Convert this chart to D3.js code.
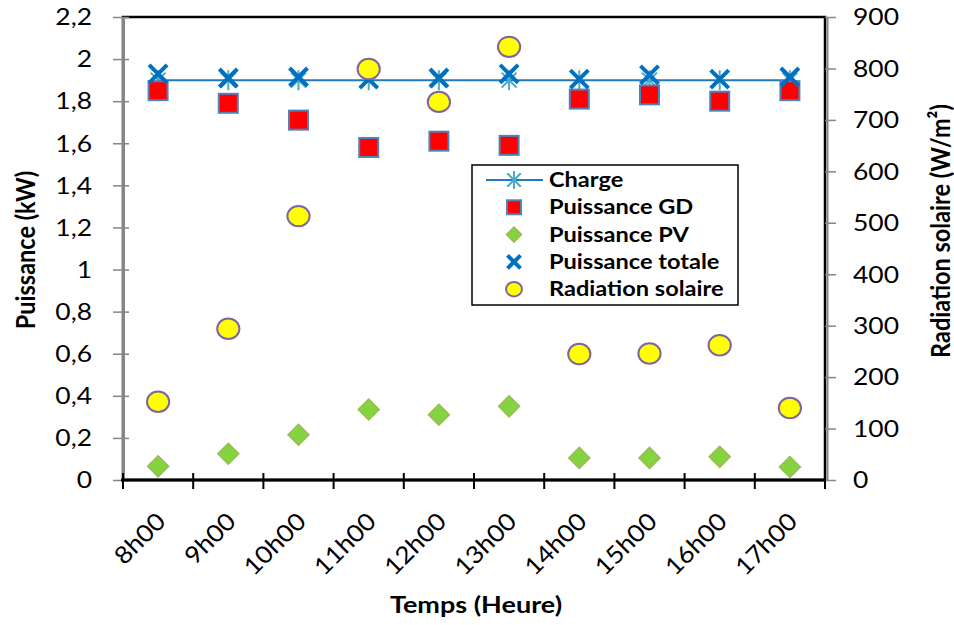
<!DOCTYPE html>
<html>
<head>
<meta charset="utf-8">
<script src="https://cdn.jsdelivr.net/npm/d3@7"></script>
<style>
  html, body { margin: 0; padding: 0; background: #fff; }
  svg { display: block; font-family: Lato, "Open Sans", sans-serif; }
</style>
</head>
<body>
<svg id="chart" width="954" height="625"></svg>
<script>
// Hourly categories
const categories = ["8h00", "9h00", "10h00", "11h00", "12h00", "13h00", "14h00", "15h00", "16h00", "17h00"];

// Power series (kW), left axis
const charge = [1.9, 1.9, 1.9, 1.9, 1.9, 1.9, 1.9, 1.9, 1.9, 1.9];
const puissanceGD = [1.85, 1.79, 1.71, 1.58, 1.61, 1.59, 1.81, 1.83, 1.80, 1.85];
const puissancePV = [0.065, 0.125, 0.215, 0.335, 0.31, 0.35, 0.105, 0.105, 0.11, 0.062];
const puissanceTotale = [1.93, 1.91, 1.915, 1.905, 1.91, 1.93, 1.905, 1.925, 1.905, 1.915];

// Solar radiation (W/m²), right axis
const radiation = [152, 294, 513, 799, 735, 842, 245, 246, 262, 140];

// Tick labels
const leftTicks = [0, 0.2, 0.4, 0.6, 0.8, 1, 1.2, 1.4, 1.6, 1.8, 2, 2.2];
const leftTickLabels = ["0", "0,2", "0,4", "0,6", "0,8", "1", "1,2", "1,4", "1,6", "1,8", "2", "2,2"];
const rightTicks = [0, 100, 200, 300, 400, 500, 600, 700, 800, 900];
const rightTickLabels = ["0", "100", "200", "300", "400", "500", "600", "700", "800", "900"];

const svg = d3.select("#chart");
const L = 123, R = 825, T = 17, B = 480;
const WIDE = 1.15; // horizontal widening applied to the text glyphs

const x = d3.scaleBand().domain(categories).range([L, R]).padding(0);
const y = d3.scaleLinear().domain([0, 2.2]).range([B, T]);
const y2 = d3.scaleLinear().domain([0, 900]).range([B, T]);
const cx = d => x(d) + x.bandwidth() / 2;

const COL = {
  charge: "#1f7ac4", chargeMark: "#4bacc6",
  gdFill: "#ff0000", gdStroke: "#4f81bd",
  pvFill: "#84d33f", pvStroke: "#9bbb59",
  tot: "#0070c0",
  radFill: "#ffff00", radStroke: "#8064a2"
};

// Plot frame (top and right borders)
svg.append("rect").attr("x", L).attr("y", T).attr("width", R - L).attr("height", B - T)
  .attr("fill", "#fff").attr("stroke", "#000").attr("stroke-width", 2.5);

// Left axis
const gL = svg.append("g").attr("transform", `translate(${L},0)`)
  .call(d3.axisLeft(y).tickValues(leftTicks).tickFormat("").tickSizeOuter(0));
gL.select(".domain").attr("stroke", "#868686").attr("stroke-width", 3);
gL.selectAll(".tick line").attr("x1", -10).attr("x2", 6).attr("stroke", "#868686").attr("stroke-width", 1.5);
svg.append("g").selectAll("text").data(leftTicks).join("text")
  .attr("transform", d => `translate(92,${y(d)}) scale(${WIDE},1)`)
  .attr("dy", "0.36em").attr("text-anchor", "end").attr("font-size", 23).attr("fill", "#000")
  .text((d, i) => leftTickLabels[i]);

// Right axis
const gR = svg.append("g").attr("transform", `translate(${R + 2},0)`)
  .call(d3.axisRight(y2).tickValues(rightTicks).tickFormat("").tickSizeOuter(0));
gR.select(".domain").attr("stroke", "#868686").attr("stroke-width", 2);
gR.selectAll(".tick line").attr("x1", -2).attr("x2", 9).attr("stroke", "#868686").attr("stroke-width", 1.5);
svg.append("g").selectAll("text").data(rightTicks).join("text")
  .attr("transform", d => `translate(853,${y2(d)}) scale(${WIDE},1)`)
  .attr("dy", "0.36em").attr("text-anchor", "start").attr("font-size", 23).attr("fill", "#000")
  .text((d, i) => rightTickLabels[i]);

// Bottom axis with ticks at category boundaries
const bounds = categories.map(c => x(c)).concat([x.range()[1]]);
svg.append("line").attr("x1", L - 2).attr("x2", R + 1).attr("y1", B).attr("y2", B)
  .attr("stroke", "#000").attr("stroke-width", 3);
svg.append("g").selectAll("line").data(bounds).join("line")
  .attr("x1", d => d).attr("x2", d => d).attr("y1", B - 7).attr("y2", B + 9)
  .attr("stroke", "#000").attr("stroke-width", 2);

svg.append("g").selectAll("text").data(categories).join("text")
  .attr("transform", d => `translate(${cx(d) + 9},${B + 43}) rotate(-45) scale(1.1,1)`)
  .attr("text-anchor", "end").attr("font-size", 24).attr("fill", "#000")
  .text(d => d);

// Axis titles
svg.append("text").attr("transform", `translate(35,250) rotate(-90) scale(1,${WIDE})`)
  .attr("text-anchor", "middle").attr("font-size", 23.5).attr("font-weight", "bold").text("Puissance (kW)");
svg.append("text").attr("transform", `translate(950,231) rotate(-90) scale(1,${WIDE})`)
  .attr("text-anchor", "middle").attr("font-size", 23.5).attr("font-weight", "bold").text("Radiation solaire (W/m²)");
svg.append("text").attr("transform", `translate(476,613) scale(${WIDE},1)`)
  .attr("text-anchor", "middle").attr("font-size", 23.5).attr("font-weight", "bold").text("Temps (Heure)");

// Marker helpers
function asterisk(g, px, py, s) {
  const a = s, d = s * 0.75;
  g.append("path").attr("d", `M${px},${py - a}V${py + a}M${px - d},${py - d}L${px + d},${py + d}M${px - d},${py + d}L${px + d},${py - d}`)
    .attr("stroke", COL.chargeMark).attr("stroke-width", 2).attr("fill", "none");
}
function square(g, px, py, s) {
  g.append("rect").attr("x", px - s).attr("y", py - s).attr("width", 2 * s).attr("height", 2 * s)
    .attr("fill", COL.gdFill).attr("stroke", COL.gdStroke).attr("stroke-width", 2);
}
function diamond(g, px, py, s) {
  g.append("path").attr("d", `M${px},${py - s}L${px + s},${py}L${px},${py + s}L${px - s},${py}Z`)
    .attr("fill", COL.pvFill).attr("stroke", COL.pvStroke).attr("stroke-width", 1.5);
}
function cross(g, px, py, s) {
  g.append("path").attr("d", `M${px - s},${py - s}L${px + s},${py + s}M${px - s},${py + s}L${px + s},${py - s}`)
    .attr("stroke", COL.tot).attr("stroke-width", 4).attr("fill", "none");
}
function circle(g, px, py, r) {
  g.append("ellipse").attr("cx", px).attr("cy", py).attr("rx", r * 1.06).attr("ry", r * 0.97)
    .attr("fill", COL.radFill).attr("stroke", COL.radStroke).attr("stroke-width", 2);
}

const marks = svg.append("g");

// Charge line and markers
marks.append("path")
  .attr("d", d3.line().x((d, i) => cx(categories[i])).y(d => y(d))(charge))
  .attr("fill", "none").attr("stroke", COL.charge).attr("stroke-width", 2);
charge.forEach((v, i) => asterisk(marks, cx(categories[i]), y(v), 10));

puissanceGD.forEach((v, i) => square(marks, cx(categories[i]), y(v), 9.5));
puissancePV.forEach((v, i) => diamond(marks, cx(categories[i]), y(v), 10.5));
puissanceTotale.forEach((v, i) => cross(marks, cx(categories[i]), y(v), 9));
radiation.forEach((v, i) => circle(marks, cx(categories[i]), y2(v), 10.5));

// Legend
const lg = svg.append("g");
lg.append("rect").attr("x", 472).attr("y", 165).attr("width", 266).attr("height", 140)
  .attr("fill", "#fff").attr("stroke", "#000").attr("stroke-width", 1.5);
const legendItems = [
  { name: "Charge", draw: (g, px, py) => {
      g.append("line").attr("x1", px - 28).attr("x2", px + 29).attr("y1", py).attr("y2", py)
        .attr("stroke", COL.charge).attr("stroke-width", 2);
      asterisk(g, px, py, 9);
    } },
  { name: "Puissance GD", draw: (g, px, py) => square(g, px, py, 7) },
  { name: "Puissance PV", draw: (g, px, py) => diamond(g, px, py, 7.5) },
  { name: "Puissance totale", draw: (g, px, py) => cross(g, px, py, 6.5) },
  { name: "Radiation solaire", draw: (g, px, py) => circle(g, px, py, 7.5) }
];
legendItems.forEach((it, i) => {
  const py = 180 + i * 27.3;
  it.draw(lg, 514, py);
  lg.append("text").attr("transform", `translate(549,${py + 7}) scale(${WIDE},1)`)
    .attr("font-size", 20.5).attr("font-weight", "bold").attr("fill", "#000").text(it.name);
});
</script>
</body>
</html>
